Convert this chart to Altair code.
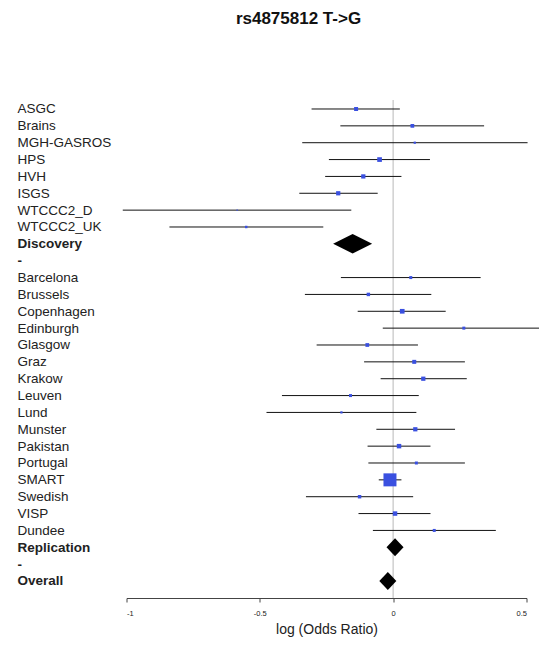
import altair as alt
import pandas as pd

rows = ["ASGC", "Brains", "MGH-GASROS", "HPS", "HVH", "ISGS", "WTCCC2_D", "WTCCC2_UK",
        "Discovery", "-",
        "Barcelona", "Brussels", "Copenhagen", "Edinburgh", "Glasgow", "Graz", "Krakow",
        "Leuven", "Lund", "Munster", "Pakistan", "Portugal", "SMART", "Swedish", "VISP",
        "Dundee", "Replication", "- ", "Overall"]

studies = ["ASGC", "Brains", "MGH-GASROS", "HPS", "HVH", "ISGS", "WTCCC2_D", "WTCCC2_UK",
           "Barcelona", "Brussels", "Copenhagen", "Edinburgh", "Glasgow", "Graz", "Krakow",
           "Leuven", "Lund", "Munster", "Pakistan", "Portugal", "SMART", "Swedish", "VISP",
           "Dundee"]
est = [-0.139, 0.072, 0.081, -0.051, -0.112, -0.206, -0.585, -0.551,
       0.066, -0.093, 0.034, 0.265, -0.097, 0.079, 0.113, -0.160, -0.194,
       0.083, 0.022, 0.087, -0.012, -0.126, 0.007, 0.154]
lo = [-0.306, -0.198, -0.341, -0.241, -0.255, -0.352, -1.014, -0.839,
      -0.196, -0.331, -0.133, -0.039, -0.287, -0.109, -0.047, -0.417, -0.475,
      -0.063, -0.096, -0.093, -0.054, -0.327, -0.130, -0.076]
hi = [0.025, 0.341, 0.504, 0.138, 0.031, -0.058, -0.157, -0.262,
      0.328, 0.143, 0.197, 0.575, 0.093, 0.269, 0.276, 0.096, 0.087,
      0.232, 0.140, 0.269, 0.031, 0.075, 0.140, 0.385]
weight = [16, 14, 5, 22, 18, 18, 2, 6,
          9, 12, 22, 9, 14, 16, 18, 9, 5,
          18, 20, 9, 169, 12, 20, 9]

summary_names = ["Discovery", "Replication", "Overall"]
summary_est = [-0.152, 0.007, -0.020]

zero_line = [0]

df = pd.DataFrame({"study": studies, "est": est, "lo": lo, "hi": hi, "weight": weight})
sdf = pd.DataFrame({"study": summary_names, "est": summary_est})
zdf = pd.DataFrame({"x": zero_line})

bold_expr = "indexof(['Discovery','Replication','Overall','-','- '], datum.value) >= 0 ? 'bold' : 'normal'"

yenc = alt.Y("study:N", sort=rows,
             scale=alt.Scale(type="point", domain=rows, padding=0.771, align=0.346),
             axis=alt.Axis(title=None, ticks=False, domain=False, grid=False,
                           labelAlign="left", labelBaseline="middle", labelPadding=109.5,
                           labelFontSize=13.5, labelFont="Liberation Sans", labelColor="#222",
                           labelLimit=300, labelFontWeight={"expr": bold_expr}))

xscale = alt.Scale(domain=[-1, 0.5], nice=False, zero=False)
xaxis = alt.Axis(values=[-1, -0.5, 0, 0.5], title="log (Odds Ratio)", grid=False,
                 tickSize=4, labelFontSize=7.5, labelPadding=7, labelColor="#222",
                 labelFont="Liberation Sans", labelExpr="toString(datum.value)",
                 titleFont="Liberation Sans", titleFontSize=14, titleFontWeight="normal",
                 titleColor="#222", titlePadding=6, domainColor="#444", tickColor="#444")

zero = alt.Chart(zdf).mark_rule(color="#d0d0d0", strokeWidth=1.5).encode(
    x=alt.X("x:Q", scale=xscale, axis=xaxis))

ci = alt.Chart(df).mark_rule(color="#111", strokeWidth=1).encode(
    x=alt.X("lo:Q", scale=xscale, axis=xaxis), x2="hi:Q", y=yenc)

squares = alt.Chart(df).mark_square(color="#3a50e0", opacity=1, strokeWidth=0).encode(
    x=alt.X("est:Q", scale=xscale, axis=xaxis), y=yenc,
    size=alt.Size("weight:Q", scale=alt.Scale(domain=[0, 169], range=[0, 169]), legend=None))

disc = alt.Chart(sdf).transform_filter("datum.study == 'Discovery'").mark_point(
    shape="M-1,0L0,-0.5L1,0L0,0.5Z", size=1521, filled=True, color="black", opacity=1).encode(
    x=alt.X("est:Q", scale=xscale, axis=xaxis), y=yenc)

summ = alt.Chart(sdf).transform_filter("datum.study != 'Discovery'").mark_point(
    shape="M-1,0L0,-1.05L1,0L0,1.05Z", size=290, filled=True, color="black", opacity=1).encode(
    x=alt.X("est:Q", scale=xscale, axis=xaxis), y=yenc)

chart = alt.layer(zero, ci, squares, disc, summ).properties(
    width=400, height=498,
    title=alt.TitleParams("rs4875812 T->G", font="Liberation Sans", fontSize=17,
                          fontWeight="bold", color="#111", anchor="middle", dx=-28,
                          baseline="alphabetic", offset=58),
    autosize=alt.AutoSizeParams(type="none"),
    padding={"left": 118.5, "top": 92, "right": 12, "bottom": 40},
).configure_view(stroke=None)

chart.save("out.html", embed_options={"renderer": "svg", "actions": False})
